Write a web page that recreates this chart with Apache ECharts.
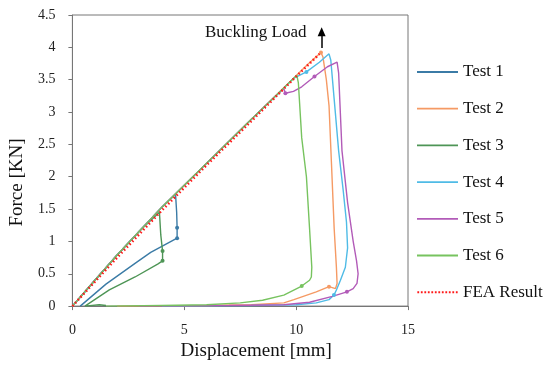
<!DOCTYPE html>
<html>
<head>
<meta charset="utf-8">
<script src="https://cdn.jsdelivr.net/npm/echarts@6/dist/echarts.min.js"></script>
<style>html,body{margin:0;padding:0;background:#fff}#c{width:550px;height:366px}</style>
</head>
<body>
<div id="c"></div>
<script>
// Tick settings
var xTicks = [0, 5, 10, 15];
var yTicks = [0, 0.5, 1, 1.5, 2, 2.5, 3, 3.5, 4, 4.5];
var seriesNames = ['Test 1', 'Test 2', 'Test 3', 'Test 4', 'Test 5', 'Test 6', 'FEA Result'];

var test1 = [[0,0],[1,0.4],[2,0.79],[3,1.16],[4,1.53],[4.61,1.73],[4.66,1.45],[4.68,1.21],[4.68,1.05],[3.5,0.83],[2.8,0.66],[1.5,0.34],[0.35,0]];
var test3 = [[0,0],[1,0.4],[2,0.79],[3,1.16],[3.89,1.45],[3.95,1.1],[4.03,0.85],[4.03,0.7],[3.81,0.65],[2.8,0.45],[1.65,0.25],[0.56,0],[1.2,0.02],[1.5,0.01]];
var test2 = [[0,0],[2,0.79],[4,1.53],[6,2.21],[8,2.89],[10,3.56],[10.5,3.73],[11.11,3.92],[11.2,3.85],[11.35,3.5],[11.47,3.1],[11.58,2.2],[11.7,1.2],[11.8,0.6],[11.83,0.35],[11.76,0.27],[11.47,0.30],[10.9,0.22],[9.9,0.1],[9.45,0.05],[8,0.02],[6,0.01],[2,0]];
var test4 = [[0,0],[2,0.79],[4,1.53],[6,2.21],[8,2.89],[9,3.22],[9.45,3.37],[9.88,3.52],[10.46,3.62],[11.04,3.77],[11.47,3.9],[11.55,3.8],[11.7,3.2],[11.9,2.4],[12.1,1.8],[12.25,1.3],[12.3,0.9],[12.2,0.6],[11.98,0.4],[11.8,0.25],[11.69,0.17],[11.47,0.1],[10.9,0.05],[10,0.02],[8,0.01],[4,0]];
var test5 = [[0,0],[2,0.79],[4,1.53],[6,2.21],[8,2.89],[9,3.22],[9.45,3.36],[9.52,3.29],[9.88,3.32],[10.25,3.39],[10.82,3.55],[11.4,3.7],[11.83,3.77],[11.9,3.6],[12.05,2.4],[12.3,1.6],[12.55,1.0],[12.7,0.7],[12.77,0.5],[12.72,0.35],[12.55,0.27],[12.27,0.22],[11.62,0.15],[10.6,0.06],[9.45,0.02],[7,0.01],[3,0]];
var test6 = [[0,0],[2,0.79],[4,1.53],[6,2.21],[8,2.89],[9,3.22],[10.03,3.57],[10.1,3.45],[10.25,2.6],[10.46,2.0],[10.6,1.2],[10.7,0.6],[10.68,0.45],[10.6,0.4],[10.25,0.31],[9.45,0.17],[8.5,0.09],[7.5,0.05],[6,0.02],[4,0.01],[1.5,0]];
var fea = [[0,0],[2,0.75],[4,1.48],[6,2.18],[8,2.86],[10,3.55],[11.05,3.9]];

// Points drawn with a small marker
var markedPoints = {
  'Test 1': [[4.68,1.21],[4.68,1.05]],
  'Test 3': [[4.03,0.85],[4.03,0.7]],
  'Test 2': [[11.47,0.30],[11.11,3.92]],
  'Test 4': [[11.69,0.17],[10.46,3.62]],
  'Test 5': [[12.27,0.22],[10.82,3.55],[9.52,3.29]],
  'Test 6': [[10.25,0.31]]
};
// Buckling load arrow (data units)
var arrowLine = [[11.14,3.99],[11.14,4.24]];

var colors = {
  'Test 1': '#3b7ba6',
  'Test 2': '#f59a64',
  'Test 3': '#4e9556',
  'Test 4': '#4fbbe6',
  'Test 5': '#b25bb8',
  'Test 6': '#77c35f',
  'FEA Result': '#ff1a1a'
};
var dataMap = {'Test 1': test1, 'Test 2': test2, 'Test 3': test3, 'Test 4': test4, 'Test 5': test5, 'Test 6': test6, 'FEA Result': fea};

function buildData(name) {
  var marks = markedPoints[name] || [];
  return dataMap[name].map(function (p) {
    var m = marks.some(function (q) { return q[0] === p[0] && q[1] === p[1]; });
    return m ? {value: p, symbol: 'circle', symbolSize: 4} : {value: p};
  });
}

// legend icons: solid line for tests, dotted for FEA
var dotted = 'path://';
for (var i = 0; i < 41; i += 3.5) { dotted += 'M' + i + ',0h1.8v2h-1.8z'; }
var solid = 'path://M0,0h41v1.8h-41z';

var FONT = 'Liberation Serif';
var series = seriesNames.map(function (name) {
  var isFea = name === 'FEA Result';
  var s = {
    name: name,
    type: 'line',
    data: buildData(name),
    symbol: 'none',
    showSymbol: true,
    color: colors[name],
    itemStyle: {color: colors[name]},
    lineStyle: {color: colors[name], width: isFea ? 2.5 : 1.4, type: isFea ? [1.5, 2.5] : 'solid'},
    z: isFea ? 5 : 3
  };
  if (name === 'Test 2') {
    s.markLine = {
      silent: true,
      symbol: ['none', 'triangle'],
      symbolSize: [8, 9],
      label: {show: false},
      lineStyle: {color: '#000', width: 1.5, type: 'solid'},
      data: [[{coord: arrowLine[0]}, {coord: arrowLine[1]}]]
    };
  }
  return s;
});

var chart = echarts.init(document.getElementById('c'), null, {renderer: 'canvas'});
chart.setOption({
  animation: false,
  backgroundColor: '#fff',
  textStyle: {fontFamily: FONT},
  grid: {left: 62, right: 142, top: 15, bottom: 53, show: true, borderColor: '#767676', borderWidth: 1},
  legend: {
    orient: 'vertical', left: 412, top: 57,
    itemWidth: 41, itemHeight: 2, itemGap: 16.7,
    textStyle: {fontFamily: FONT, fontSize: 17, color: '#111', lineHeight: 20},
    data: seriesNames.map(function (n) {
      return {name: n, icon: n === 'FEA Result' ? dotted : solid};
    })
  },
  xAxis: {
    type: 'value', min: xTicks[0], max: xTicks[xTicks.length - 1], interval: 5,
    name: 'Displacement [mm]', nameLocation: 'middle', nameGap: 30,
    nameTextStyle: {fontFamily: FONT, fontSize: 19, color: '#111', padding: [0, 0, 0, 32]},
    axisLine: {lineStyle: {color: '#767676', width: 1}},
    axisTick: {show: true, inside: false, length: 4, lineStyle: {color: '#767676'}},
    axisLabel: {fontFamily: FONT, fontSize: 14, color: '#222', margin: 17},
    splitLine: {show: false}
  },
  yAxis: {
    type: 'value', min: yTicks[0], max: yTicks[yTicks.length - 1], interval: 0.5,
    name: 'Force [KN]', nameLocation: 'middle', nameGap: 40,
    nameTextStyle: {fontFamily: FONT, fontSize: 19, color: '#111', padding: [0, 44, 0, 0]},
    axisLine: {show: true, lineStyle: {color: '#767676', width: 1}},
    axisTick: {show: true, inside: false, length: 4, lineStyle: {color: '#767676'}},
    axisLabel: {fontFamily: FONT, fontSize: 14, color: '#222', margin: 17},
    splitLine: {show: false}
  },
  graphic: [{
    type: 'text', left: 205, top: 24,
    style: {text: 'Buckling Load', fontFamily: FONT, fontSize: 17, fill: '#111'}
  }],
  series: series
});
</script>
</body>
</html>
